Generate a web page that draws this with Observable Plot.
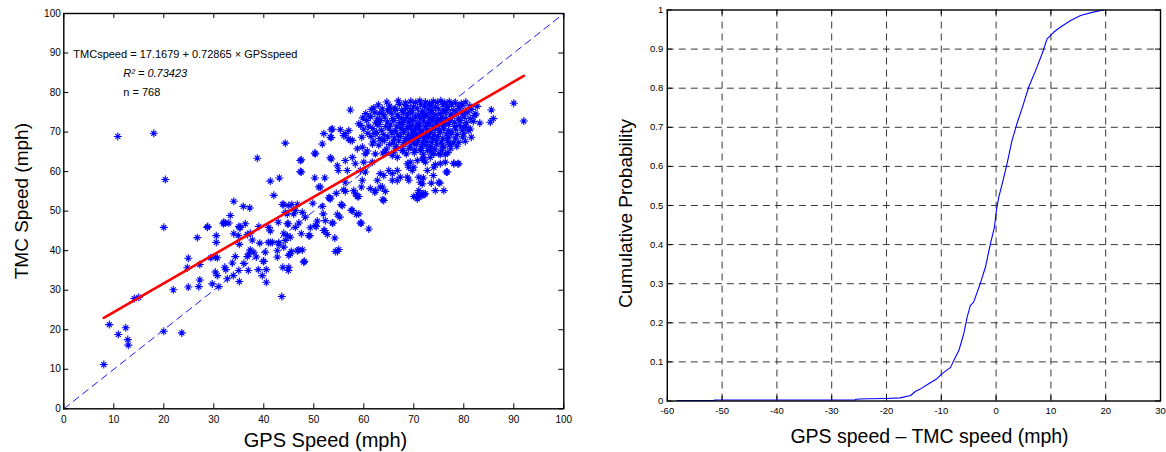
<!DOCTYPE html>
<html><head><meta charset="utf-8">
<script src="https://cdn.jsdelivr.net/npm/d3@7"></script>
<script src="https://cdn.jsdelivr.net/npm/@observablehq/plot@0.6"></script>
<style>
html,body{margin:0;padding:0;background:#fff;}
#wrap{position:relative;width:1166px;height:452px;overflow:hidden;font-family:"Liberation Sans",Arial,sans-serif;}
#left{position:absolute;left:0;top:0;}
#right{position:absolute;left:580px;top:0;}
svg{overflow:visible;}
</style></head><body><div id="wrap"><div id="left"></div><div id="right"></div></div>
<script>
// ---------- Left panel data: [GPS speed, TMC speed] ----------
const lowPts = [[8.0,11.2],[9.1,21.3],[10.9,18.8],[12.4,20.5],[12.8,17.5],[12.9,16.1],[14.1,27.9],[15.0,28.2],[20.0,19.6],[23.6,19.2],[20.0,45.9],[20.3,58.0],[10.8,68.9],[18.0,69.7],[21.9,30.1],[24.9,30.8],[24.9,38.1],[24.7,35.7],[26.7,43.3],[27.0,30.9],[27.2,32.6],[27.2,36.5],[28.8,46.1],[29.7,31.6],[29.4,38.2],[30.3,38.4],[30.5,42.1],[30.5,43.8],[30.3,34.6],[30.7,33.7],[31.0,30.9],[31.9,46.8],[32.2,35.8],[32.4,35.2],[32.7,32.9],[33.0,47.0],[33.3,48.9],[33.7,36.9],[33.9,33.7],[34.0,52.5],[34.0,44.3],[34.3,38.5],[34.9,43.8],[35.0,35.0],[35.1,32.2],[35.1,41.6],[35.3,45.9],[35.0,46.1],[35.9,51.2],[36.0,36.8],[36.7,38.5],[36.7,44.1],[36.9,35.0],[37.2,50.8],[37.3,44.4],[37.3,40.2],[37.0,39.2],[37.7,42.7],[38.0,39.6],[38.5,38.4],[38.9,35.2],[39.0,46.1],[39.2,41.9],[39.7,33.7],[39.9,37.3],[40.0,37.3],[40.5,32.0],[40.5,35.2],[40.9,42.1],[40.3,39.6],[41.0,45.9],[41.3,45.0],[41.3,42.1],[41.7,42.1],[42.0,54.0],[41.3,57.6],[43.0,42.0],[42.7,38.4],[42.7,40.0],[42.9,47.2],[43.6,28.4],[38.7,63.4],[32.0,47.2],[32.3,47.0],[36.3,46.8],[35.2,45.8],[30.7,38.2],[28.7,45.9]];
const midPts = [[44.9,35.0],[43.8,35.8],[45.0,35.8],[48.1,37.3],[48.0,37.1],[45.0,38.8],[45.3,39.2],[45.5,39.8],[44.0,40.9],[46.7,40.0],[47.0,40.2],[47.7,40.2],[54.7,39.8],[55.0,40.3],[54.3,39.8],[54.2,43.2],[52.7,44.1],[52.2,45.1],[49.0,43.8],[49.2,43.8],[47.5,44.3],[44.3,42.6],[43.0,41.7],[45.3,43.4],[44.7,43.8],[44.9,46.8],[44.7,46.8],[44.0,44.4],[46.3,45.9],[47.0,47.0],[49.3,45.8],[50.3,46.4],[50.5,46.1],[50.7,47.5],[52.0,45.1],[52.3,47.6],[53.8,47.0],[53.7,47.0],[51.9,49.3],[48.3,48.5],[47.7,49.7],[46.3,50.2],[44.3,49.7],[44.7,49.3],[46.0,49.3],[43.7,51.7],[44.0,51.7],[45.0,51.4],[45.6,51.7],[46.7,51.7],[49.8,52.0],[51.7,51.2],[55.5,51.7],[54.7,49.2],[55.2,48.5],[57.5,50.2],[58.5,49.2],[59.0,49.3],[59.5,47.0],[59.3,47.0],[61.0,45.5],[53.2,53.4],[54.5,54.5],[56.3,55.0],[58.3,54.4],[59.0,53.7],[62.2,54.8],[63.8,52.9],[64.0,52.7],[64.3,55.0],[70.9,54.2],[72.0,54.4],[53.3,53.1],[55.7,51.4],[57.7,50.2],[47.3,62.8],[47.3,60.0],[44.3,67.2]];
const upperPts = [[43.1,58.4],[47.5,63.0],[47.5,59.9],[50.2,64.7],[50.2,58.4],[52.2,58.4],[51.0,56.1],[51.3,56.1],[51.7,67.0],[52.0,69.6],[53.5,70.6],[53.5,68.6],[53.5,63.2],[53.0,53.4],[55.3,70.6],[56.3,69.6],[57.3,75.6],[57.0,70.4],[56.9,68.3],[57.7,67.9],[54.7,61.5],[54.9,60.3],[56.3,62.8],[56.7,60.3],[58.3,62.0],[56.3,57.3],[58.0,55.2],[58.7,53.7],[56.0,55.4],[59.5,56.1],[60.3,59.9],[60.0,62.4],[60.7,65.2],[59.7,66.2],[59.0,72.1],[61.3,73.9],[62.0,76.1],[63.2,74.8],[62.7,72.1],[65.0,75.9],[66.3,75.9],[62.3,69.6],[63.7,67.9],[61.7,67.0],[62.3,64.5],[61.7,62.4],[62.7,57.8],[64.0,59.0],[63.7,56.1],[62.3,55.2],[65.7,57.8],[65.0,60.3],[66.7,60.3],[67.3,58.6],[68.7,62.0],[69.7,60.3],[69.0,57.8],[71.0,58.6],[71.7,63.2],[71.0,55.2],[70.0,53.7],[71.7,54.0],[64.3,64.9],[65.7,64.1],[67.7,65.3],[66.7,63.6],[68.3,67.9],[69.7,68.7],[50.3,64.5],[53.3,63.5],[53.7,70.8],[53.3,68.7],[56.0,69.1],[57.3,67.9],[58.7,65.8],[60.3,64.5],[57.7,63.6],[59.3,60.3],[59.7,57.8],[61.3,55.7],[63.3,56.1],[63.3,59.5],[65.7,59.5],[66.7,57.7],[68.7,58.6],[69.0,61.1],[70.7,62.8],[72.7,60.3],[71.3,57.3],[75.0,57.3],[76.7,59.9],[73.3,63.6],[75.3,62.0],[78.0,62.0],[79.0,62.0],[74.3,55.2],[76.0,55.2],[72.3,54.4],[71.0,53.5]];
const rightPts = [[90.0,77.3],[92.0,72.8],[85.5,75.6],[85.9,73.4],[85.3,72.5],[83.2,72.3],[82.2,74.2],[82.7,76.5],[81.5,68.7],[81.0,70.4],[80.0,71.2],[79.0,67.4],[77.3,67.0],[76.0,66.2],[78.0,62.1],[78.8,62.0],[76.3,64.3],[75.3,64.3],[76.3,62.4],[76.5,59.9],[75.2,57.1],[73.9,59.0],[73.5,57.1],[71.7,56.9],[71.9,58.4],[70.8,54.2],[72.0,54.2],[70.7,53.1],[74.0,61.1],[74.3,61.8],[72.0,63.2],[72.3,62.4],[70.0,61.1],[69.3,62.4],[73.3,65.8],[71.3,65.3],[74.0,64.5],[81.3,70.8]];
const clusterPts = [
[64.6,77.6],[66.9,77.9],[68.3,77.4],[69.4,77.8],[70.4,77.5],[71.2,77.9],[72.3,77.6],[73.1,77.3],[73.9,77.8],[74.7,77.5],[75.4,77.9],[76.2,77.4],[77.1,77.7],[78.3,77.5],[79.5,77.2],[80.4,77.6],
[62.9,76.9],[65.2,76.6],[67.1,77.0],[68.6,76.7],[69.9,76.4],[71.4,76.9],[72.2,76.5],[73.5,76.8],[74.3,76.3],[75.8,76.9],[76.7,76.5],[77.6,76.9],[78.9,76.4],[79.8,76.8],[81.2,76.6],
[61.5,75.7],[63.7,75.9],[64.8,75.4],[66.2,75.8],[67.6,75.5],[68.4,76.0],[69.3,75.6],[70.7,75.9],[71.8,75.3],[72.9,75.8],[73.7,75.5],[74.9,75.9],[75.9,75.4],[76.8,75.7],[78.0,75.5],[79.2,75.9],[80.3,75.3],[81.6,75.7],
[60.4,74.7],[62.2,74.9],[63.9,74.5],[65.5,74.8],[66.7,74.4],[67.9,74.9],[68.8,74.6],[69.7,74.9],[70.9,74.3],[71.7,74.8],[72.6,74.5],[73.4,74.9],[74.4,74.4],[75.3,74.7],[76.3,74.9],[77.3,74.4],[78.5,74.8],[79.7,74.5],[80.8,74.9],[82.4,74.6],
[59.8,73.6],[61.3,73.9],[62.8,73.5],[64.2,73.8],[65.8,73.4],[66.9,73.9],[67.6,73.5],[68.6,73.7],[69.4,73.3],[70.3,73.8],[71.3,73.4],[72.1,73.9],[73.1,73.5],[73.9,73.8],[74.8,73.3],[75.6,73.7],[76.5,73.4],[77.7,73.9],[78.9,73.5],[80.1,73.8],[81.3,73.4],
[60.6,72.9],[62.4,72.5],[63.3,72.9],[64.7,72.6],[66.0,72.9],[67.2,72.4],[68.1,72.8],[69.0,72.5],[69.8,72.9],[70.7,72.3],[71.9,72.8],[72.8,72.4],[73.7,72.9],[74.5,72.6],[75.4,72.9],[76.2,72.4],[77.3,72.8],[78.2,72.5],[79.3,72.9],[80.5,72.4],[81.9,72.7],
[59.4,71.7],[61.0,71.5],[63.0,71.9],[64.4,71.4],[65.3,71.8],[66.6,71.5],[67.7,71.9],[68.8,71.4],[69.6,71.7],[70.4,71.3],[71.2,71.8],[72.3,71.5],[73.2,71.9],[74.0,71.4],[74.9,71.8],[75.9,71.5],[76.9,71.9],[78.1,71.4],[79.2,71.7],[80.4,71.5],
[60.0,70.7],[61.8,70.9],[63.5,70.5],[65.1,70.8],[66.3,70.4],[67.4,70.9],[68.3,70.6],[69.3,70.9],[70.1,70.4],[71.0,70.8],[71.7,70.3],[72.7,70.7],[73.5,70.4],[74.3,70.9],[75.1,70.5],[76.0,70.8],[77.0,70.4],[78.4,70.8],[79.7,70.5],
[60.8,69.7],[62.5,69.9],[64.0,69.4],[65.6,69.8],[66.8,69.5],[67.9,69.9],[68.9,69.4],[69.8,69.8],[70.6,69.5],[71.4,69.9],[72.4,69.3],[73.3,69.7],[74.1,69.4],[75.3,69.9],[76.5,69.5],[77.6,69.8],[78.7,69.4],[80.0,69.7],
[59.6,68.7],[61.4,68.9],[63.2,68.4],[64.8,68.8],[66.1,68.5],[67.3,68.9],[68.4,68.4],[69.5,68.7],[70.3,68.5],[71.2,68.9],[72.0,68.3],[73.0,68.8],[73.8,68.5],[74.8,68.9],[75.8,68.4],[77.0,68.7],[78.3,68.5],[79.8,68.8],
[62.0,67.7],[64.1,67.9],[65.9,67.5],[67.0,67.8],[68.2,67.4],[69.1,67.9],[70.0,67.5],[70.9,67.8],[71.8,67.3],[72.6,67.7],[73.6,67.4],[74.5,67.9],[75.5,67.5],[76.7,67.8],[78.0,67.4],[80.3,67.7],
[63.0,66.7],[65.2,66.9],[66.5,66.4],[68.0,66.8],[69.4,66.5],[70.5,66.9],[71.5,66.4],[72.5,66.7],[73.4,66.3],[74.6,66.8],[75.7,66.5],[77.1,66.9],[78.6,66.4],
[64.5,65.7],[66.4,65.9],[67.8,65.4],[69.0,65.8],[70.2,65.5],[71.6,65.9],[72.8,65.3],[74.2,65.7],[75.6,65.4],[77.4,65.8],
[63.8,64.7],[66.0,64.9],[68.5,64.5],[70.1,64.8],[71.9,64.4],[73.5,64.9],[75.0,64.6],[76.8,64.8]];

// regression coefficients (from the chart's annotation) and line extent
const fitIntercept = 17.1679;
const fitSlope = 0.72865;
const fitRange = [8, 92];
const diagRange = [0, 100];
const leftXTicks = [0,10,20,30,40,50,60,70,80,90,100];
const leftYTicks = [0,10,20,30,40,50,60,70,80,90,100];
const annoLines = ["TMCspeed = 17.1679 + 0.72865 \u00d7 GPSspeed", "R\u00b2 = 0.73423", "n = 768"];

// ---------- Right panel data: empirical CDF of GPS - TMC ----------
const cdfDiff = [-58.2,-51.4,-51.4,-25.7,-25.7,-25.0,-23.0,-20.0,-17.5,-15.6,-14.7,-13.8,-12.3,-10.8,-9.85,-8.3,-7.7,-6.8,-5.9,-5.3,-4.7,-4.1,-2.9,-1.95,-1.04,-0.3,0.05,0.48,1.27,2.0,2.9,3.8,5.0,5.95,7.2,8.4,9.3,10.5,11.7,13.6,15.4,17.5,19.6];
const cdfProb = [0.0013,0.0013,0.0026,0.0026,0.0039,0.0052,0.0056,0.0065,0.008,0.014,0.025,0.031,0.044,0.057,0.07,0.086,0.104,0.129,0.172,0.214,0.244,0.253,0.30,0.342,0.402,0.445,0.487,0.521,0.564,0.607,0.666,0.709,0.76,0.803,0.845,0.888,0.926,0.943,0.956,0.973,0.986,0.994,1.0];
const rightXTicks = [-60,-50,-40,-30,-20,-10,0,10,20,30];
const rightYTicks = [0,0.1,0.2,0.3,0.4,0.5,0.6,0.7,0.8,0.9,1];

const FONT = "Liberation Sans, Arial, Helvetica, sans-serif";
const BLUE = "#0000ff";

// MATLAB-like '*' marker: plus with a small x
const starSymbol = {
  draw(ctx, size) {
    const r = Math.sqrt(size / Math.PI);
    const d = r * 0.62;
    ctx.moveTo(-r, 0); ctx.lineTo(r, 0);
    ctx.moveTo(0, -r); ctx.lineTo(0, r);
    ctx.moveTo(-d, -d); ctx.lineTo(d, d);
    ctx.moveTo(-d, d); ctx.lineTo(d, -d);
  }
};

const scatter = [...lowPts, ...midPts, ...upperPts, ...rightPts, ...clusterPts];

// ---------- Left plot ----------
const L = {w: 580, h: 452, ml: 63.3, mr: 16.7, mt: 13, mb: 43.7};
const LiW = L.w - L.ml - L.mr, LiH = L.h - L.mt - L.mb;
const left = Plot.plot({
  width: L.w, height: L.h,
  marginLeft: L.ml, marginRight: L.mr, marginTop: L.mt, marginBottom: L.mb,
  style: {fontFamily: FONT, background: "white", color: "black"},
  x: {domain: [0, 100], axis: null},
  y: {domain: [0, 100], axis: null},
  marks: [
    Plot.line(diagRange, {x: d => d, y: d => d, stroke: BLUE, strokeWidth: 0.9, strokeDasharray: "7,5"}),
    Plot.dot(scatter, {x: d => d[0], y: d => d[1], symbol: starSymbol, r: 4, fill: "none", stroke: BLUE, strokeWidth: 1.1}),
    Plot.line(fitRange, {x: d => d, y: d => fitIntercept + fitSlope * d, stroke: "#ff0000", strokeWidth: 2.6}),
    Plot.tickX(leftXTicks, {x: d => d, insetTop: LiH - 5, stroke: "black"}),
    Plot.tickX(leftXTicks, {x: d => d, insetBottom: LiH - 5, stroke: "black"}),
    Plot.tickY(leftYTicks, {y: d => d, insetRight: LiW - 5, stroke: "black"}),
    Plot.tickY(leftYTicks, {y: d => d, insetLeft: LiW - 5, stroke: "black"}),
    Plot.frame({stroke: "black", strokeWidth: 1.4}),
    Plot.axisX(leftXTicks, {tickSize: 0, tickPadding: 7, fontSize: 10, label: null, tickFormat: d => String(d)}),
    Plot.axisY(leftYTicks, {tickSize: 0, tickPadding: 3, fontSize: 10, label: null, tickFormat: d => String(d)}),
    Plot.text([annoLines[0]], {x: 1.9, y: 89.6, text: d => d, textAnchor: "start", lineAnchor: "middle", fontSize: 11}),
    Plot.text([annoLines[1]], {x: 11.9, y: 84.9, text: d => d, textAnchor: "start", lineAnchor: "middle", fontSize: 11, fontStyle: "italic"}),
    Plot.text([annoLines[2]], {x: 11.9, y: 80.1, text: d => d, textAnchor: "start", lineAnchor: "middle", fontSize: 11}),
    Plot.text(["GPS Speed (mph)"], {frameAnchor: "bottom", text: d => d, textAnchor: "middle", lineAnchor: "middle", dx: 11.7, dy: 31.3, fontSize: 20}),
    Plot.text(["TMC Speed (mph)"], {frameAnchor: "left", text: d => d, textAnchor: "middle", lineAnchor: "middle", rotate: -90, dx: -42.3, dy: -10, fontSize: 19})
  ]
});
document.getElementById("left").appendChild(left);

// ---------- Right plot ----------
const R = {w: 586, h: 452, ml: 86.8, mr: 6, mt: 9.5, mb: 51.5};
const RiW = R.w - R.ml - R.mr, RiH = R.h - R.mt - R.mb;
const cdf = cdfDiff.map((d, i) => ({d, p: cdfProb[i]}));
const right = Plot.plot({
  width: R.w, height: R.h,
  marginLeft: R.ml, marginRight: R.mr, marginTop: R.mt, marginBottom: R.mb,
  style: {fontFamily: FONT, background: "white", color: "black", overflow: "visible"},
  x: {domain: [-60, 30], axis: null},
  y: {domain: [0, 1], axis: null},
  marks: [
    Plot.ruleX(rightXTicks.slice(1, -1), {x: d => d, stroke: "#222", strokeWidth: 0.9, strokeDasharray: "7,5"}),
    Plot.ruleY(rightYTicks.slice(1, -1), {y: d => d, stroke: "#222", strokeWidth: 0.9, strokeDasharray: "7,5"}),
    Plot.tickX(rightXTicks, {x: d => d, insetTop: RiH - 5, stroke: "black"}),
    Plot.tickX(rightXTicks, {x: d => d, insetBottom: RiH - 5, stroke: "black"}),
    Plot.tickY(rightYTicks, {y: d => d, insetRight: RiW - 5, stroke: "black"}),
    Plot.tickY(rightYTicks, {y: d => d, insetLeft: RiW - 5, stroke: "black"}),
    Plot.line(cdf, {x: "d", y: "p", stroke: BLUE, strokeWidth: 1.1}),
    Plot.frame({stroke: "black", strokeWidth: 1.4}),
    Plot.axisX(rightXTicks, {tickSize: 0, tickPadding: 6, fontSize: 9.5, label: null, tickFormat: d => String(d)}),
    Plot.axisY(rightYTicks, {tickSize: 0, tickPadding: 4, fontSize: 9.5, label: null, tickFormat: d => String(d)}),
    Plot.text(["GPS speed \u2013 TMC speed (mph)"], {frameAnchor: "bottom", text: d => d, textAnchor: "middle", lineAnchor: "middle", dx: 15.6, dy: 36.1, fontSize: 19.5}),
    Plot.text(["Cumulative Probability"], {frameAnchor: "left", text: d => d, textAnchor: "middle", lineAnchor: "middle", rotate: -90, dx: -41.8, dy: 8, fontSize: 19})
  ]
});
document.getElementById("right").appendChild(right);
</script></body></html>
